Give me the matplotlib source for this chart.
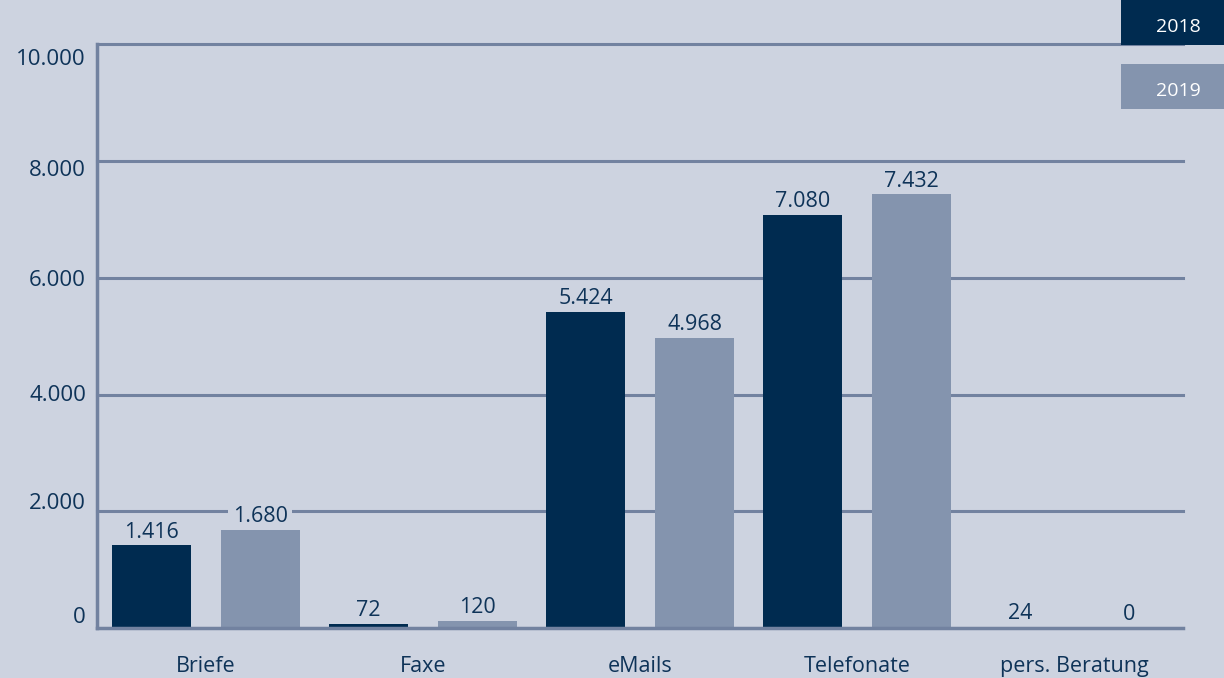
import matplotlib
matplotlib.use("Agg")
import matplotlib.pyplot as plt
import numpy as np
from matplotlib.patches import Rectangle
from matplotlib.transforms import ScaledTranslation

categories = ["Briefe", "Faxe", "eMails", "Telefonate", "pers. Beratung"]
values_2018 = [1416, 72, 5424, 7080, 24]
values_2019 = [1680, 120, 4968, 7432, 0]
series_labels = ["2018", "2019"]
yticks = [0, 2000, 4000, 6000, 8000, 10000]

BG = "#CDD3E0"
C2018 = "#002B50"
C2019 = "#8494AE"
GRID = "#7282A0"
TXT = "#0E3358"

plt.rcParams['font.family'] = ['Open Sans', 'DejaVu Sans']

fig = plt.figure(figsize=(12.24, 6.78), dpi=100, facecolor=BG)
W, H = 1224, 678
ax = fig.add_axes([97 / W, 1 - 628 / H, (1183 - 97) / W, (628 - 44.5) / H])
ax.set_facecolor(BG)

def fmt(v):
    return f"{v:,}".replace(",", ".")

x = np.arange(len(categories))
bw = 0.364
off = 0.251
ax.set_xlim(-0.5, len(categories) - 0.5)
ax.set_ylim(0, 10000)

for yv in yticks[1:]:
    ax.axhline(yv, color=GRID, lw=2.2, zorder=1, clip_on=False)

b1 = ax.bar(x - off, values_2018, bw, color=C2018, zorder=3)
b2 = ax.bar(x + off, values_2019, bw, color=C2019, zorder=3)

for bars, vals in ((b1, values_2018), (b2, values_2019)):
    for rect, v in zip(bars, vals):
        ax.annotate(fmt(v), (rect.get_x() + rect.get_width() / 2, v),
                    xytext=(0, 2), textcoords="offset points",
                    ha="center", va="bottom", fontsize=15.5, color=TXT, zorder=2,
                    bbox=dict(boxstyle="square,pad=0.2", fc=BG, ec="none"))

ax.set_yticks(yticks)
ax.set_yticklabels([fmt(v) for v in yticks], fontsize=16, color=TXT)
ax.set_xticks(x)
ax.set_xticklabels(categories, fontsize=15.5, color=TXT)
ax.tick_params(axis="both", length=0)
ax.tick_params(axis="y", pad=8)
ax.tick_params(axis="x", pad=20)

# vertical placement of y labels as in the reference (px, positive = down)
label_shift = {0: -13, 2000: -10, 4000: -2, 6000: 0, 8000: 7, 10000: 13}
for tv, lab in zip(yticks, ax.get_yticklabels()):
    lab.set_transform(lab.get_transform() +
                      ScaledTranslation(0, -label_shift[tv] / 100, fig.dpi_scale_trans))

for s in ("top", "right"):
    ax.spines[s].set_visible(False)
for s in ("left", "bottom"):
    ax.spines[s].set_color(GRID)
    ax.spines[s].set_linewidth(2.5)
    ax.spines[s].set_zorder(4)

# legend boxes
for i, (lab, col) in enumerate(zip(series_labels, [C2018, C2019])):
    top = 0 + i * 64
    fig.patches.append(Rectangle((1121 / W, 1 - (top + 45) / H), 103 / W, 45 / H,
                                 transform=fig.transFigure, facecolor=col, edgecolor="none"))
    fig.text(1178 / W, 1 - (top + 27) / H, lab, ha="center", va="center",
             fontsize=14, color="white")

fig.savefig("out.png", dpi=100, facecolor=BG)
